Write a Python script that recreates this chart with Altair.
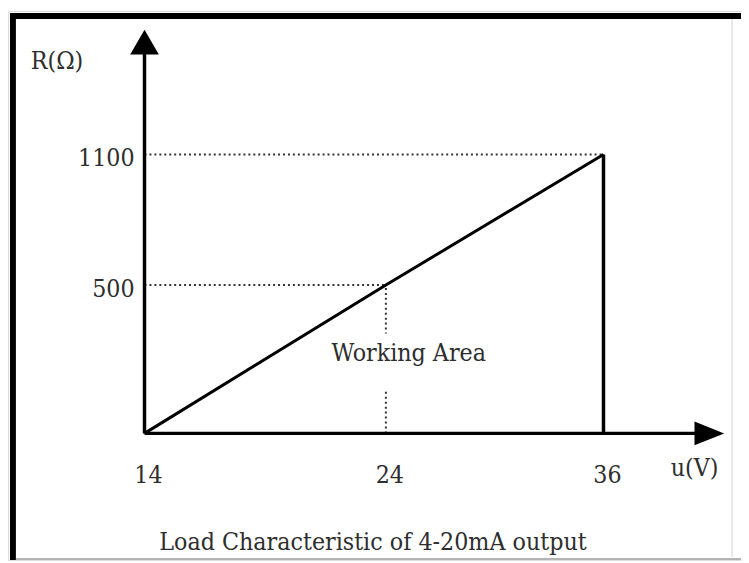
import altair as alt
import pandas as pd

# ---- data ----
u_vals = [14, 24, 36]          # V
r_vals = [0, 500, 1100]        # Ohm
x_ticks = [14, 24, 36]
y_ticks = [500, 1100]
x_title = "u(V)"
y_title = "R(Ω)"
area_label = "Working Area"
caption = "Load Characteristic of 4-20mA output"

# ---- layout (page px -> chart px; page margin 8) ----
W, H = 741, 555
def px(v):
    return v - 8

FONT = "'DejaVu Serif Condensed', 'DejaVu Serif'"
FS = 25
TXT = "#2e2e2e"

xs = alt.Scale(domain=u_vals, range=[px(146), px(390), px(610)], nice=False, zero=False)
ys = alt.Scale(domain=r_vals, range=[px(435), px(285), px(153)], nice=False, zero=False)

def X(f="u"):
    return alt.X(f"{f}:Q", scale=xs, axis=None)

def Y(f="R"):
    return alt.Y(f"{f}:Q", scale=ys, axis=None)

one = alt.Data(values=[{}])

line_df = pd.DataFrame({"u": u_vals, "R": r_vals})
origin_df = pd.DataFrame({"u": [u_vals[0]], "R": [r_vals[0]]})
end_df = pd.DataFrame({"u": [u_vals[-1]], "R": [r_vals[0]], "R2": [r_vals[-1]]})
guide_df = pd.DataFrame({
    "u": [u_vals[0], u_vals[0], u_vals[1]],
    "u2": [u_vals[-1], u_vals[1], u_vals[1]],
    "R": [r_vals[-1], r_vals[1], r_vals[0]],
    "R2": [r_vals[-1], r_vals[1], r_vals[1]],
})
xtick_df = pd.DataFrame({"u": x_ticks, "lab": [str(v) for v in x_ticks]})
ytick_df = pd.DataFrame({"R": y_ticks, "lab": [str(v) for v in y_ticks]})

# frame
frame_top = alt.Chart(one).mark_rule(color="black", strokeWidth=6).encode(
    x=alt.value(px(10)), x2=alt.value(W), y=alt.value(px(13)))
frame_left = alt.Chart(one).mark_rule(color="black", strokeWidth=6).encode(
    x=alt.value(px(13)), y=alt.value(px(10)), y2=alt.value(H))
frame_right = alt.Chart(one).mark_rule(color="#e2e2e2", strokeWidth=1.5).encode(
    x=alt.value(px(740)), y=alt.value(px(16)), y2=alt.value(px(560)))
frame_bottom = alt.Chart(one).mark_rule(color="#9a9a9a", strokeWidth=1.5).encode(
    x=alt.value(px(16)), x2=alt.value(W), y=alt.value(px(562)))

# dotted guides
guides = alt.Chart(guide_df).mark_rule(color="#333", strokeWidth=2, strokeDash=[2, 3]).encode(
    x=X("u"), x2="u2:Q", y=Y("R"), y2="R2:Q")

# white box behind label
box = alt.Chart(one).mark_rect(color="white").encode(
    x=alt.value(px(332)), x2=alt.value(px(580)), y=alt.value(px(334)), y2=alt.value(px(392)))
area_txt = alt.Chart(one).mark_text(
    text=area_label, font=FONT, fontSize=FS, color=TXT, align="left", baseline="alphabetic"
).encode(x=alt.value(px(335)), y=alt.value(px(362)))

# main characteristic
main_line = alt.Chart(line_df).mark_line(color="black", strokeWidth=3).encode(x=X(), y=Y())
end_rule = alt.Chart(end_df).mark_rule(color="black", strokeWidth=3.5).encode(
    x=X(), y=Y(), y2="R2:Q")

# axes
y_axis = alt.Chart(origin_df).mark_rule(color="black", strokeWidth=3.5).encode(
    x=X(), y=Y(), y2=alt.value(px(50)))
x_axis = alt.Chart(origin_df).mark_rule(color="black", strokeWidth=3.5).encode(
    x=X(), x2=alt.value(px(705)), y=Y())
y_arrow = alt.Chart(origin_df).mark_point(
    shape="M-1,0.862L0,-0.862L1,0.862Z", filled=True, color="black", opacity=1, size=841, strokeWidth=0
).encode(x=X(), y=alt.value(px(39.5)))
x_arrow = alt.Chart(origin_df).mark_point(
    shape="M-1.25,-1L1.25,0L-1.25,1Z", filled=True, color="black", opacity=1, size=576, strokeWidth=0
).encode(x=alt.value(px(717)), y=Y())

# labels
xlabels = alt.Chart(xtick_df).mark_text(
    font=FONT, fontSize=FS, color=TXT, align="center", baseline="alphabetic", dx=4
).encode(x=X(), y=alt.value(px(485)), text="lab:N")
ylabels = alt.Chart(ytick_df).mark_text(
    font=FONT, fontSize=FS, color=TXT, align="right", baseline="middle", dy=4
).encode(x=alt.value(px(136)), y=Y(), text="lab:N")
ytitle = alt.Chart(one).mark_text(
    text=y_title, font=FONT, fontSize=FS, color=TXT, align="left", baseline="alphabetic"
).encode(x=alt.value(px(31)), y=alt.value(px(67)))
xtitle = alt.Chart(one).mark_text(
    text=x_title, font=FONT, fontSize=FS, color=TXT, align="left", baseline="alphabetic"
).encode(x=alt.value(px(678)), y=alt.value(px(478)))
cap = alt.Chart(one).mark_text(
    text=caption, font=FONT, fontSize=FS, color=TXT, align="center", baseline="alphabetic"
).encode(x=alt.value(px(377)), y=alt.value(px(553)))

chart = alt.layer(
    frame_top, frame_left, frame_right, frame_bottom,
    guides, box, area_txt,
    main_line, end_rule, y_axis, x_axis, y_arrow, x_arrow,
    xlabels, ylabels, ytitle, xtitle, cap,
).properties(
    width=W, height=H,
    autosize=alt.AutoSizeParams(type="none"),
    padding=0,
).configure_view(stroke=None).configure(background="white")

chart.save("out.html", embed_options={"renderer": "svg", "actions": False})
